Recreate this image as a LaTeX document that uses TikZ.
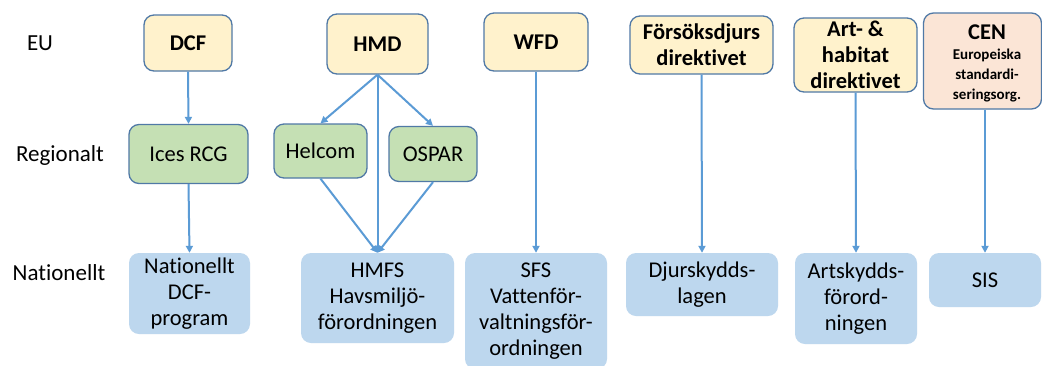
\documentclass[tikz,border=0pt]{standalone}
\usepackage{fontspec}
\setmainfont{Carlito}[Ligatures=NoCommon]
\usetikzlibrary{arrows.meta}
\definecolor{bdr}{HTML}{5079A6}
\definecolor{euf}{HTML}{FFF2CC}
\definecolor{regf}{HTML}{C5E0B4}
\definecolor{cenf}{HTML}{FBE5D6}
\definecolor{natf}{HTML}{BDD7EE}
\definecolor{arr}{HTML}{5B9BD5}
\tikzset{
  box/.style={rectangle, rounded corners=10pt, inner sep=0pt, align=center, font=\fontsize{22.5}{26}\selectfont},
  eubox/.style={box, draw=bdr, line width=1.3pt, fill=euf, font=\fontsize{22.5}{26}\selectfont\bfseries},
  cenbox/.style={box, draw=bdr, line width=1.3pt, fill=cenf},
  regbox/.style={box, draw=bdr, line width=1.3pt, fill=regf},
  natbox/.style={box, fill=natf},
  rowlbl/.style={font=\fontsize{23}{27}\selectfont, inner sep=0pt},
  conn/.style={draw=arr, line width=2pt, -{Triangle[length=7pt,width=7pt]}}
}
\begin{document}
\begin{tikzpicture}[x=1pt,y=-1pt]
\useasboundingbox (0,0) rectangle (1042,365);
\fill[white] (0,0) rectangle (1042,365);
% row labels
\node[rowlbl] (leu) at (40,43) {EU};
\node[rowlbl] (lreg) at (60,155) {Regionalt};
\node[rowlbl] (lnat) at (59,273) {Nationellt};
% EU row
\node[eubox, minimum width=88pt, minimum height=56pt] (dcf) at (188,43) {DCF};
\node[eubox, minimum width=101pt, minimum height=60pt] (hmd) at (377.5,44) {HMD};
\node[eubox, minimum width=104pt, minimum height=58pt] (wfd) at (536,42) {WFD};
\node[eubox, minimum width=143pt, minimum height=58pt] (fdd) at (701.5,45) {Försöksdjurs\\direktivet};
\node[eubox, minimum width=123pt, minimum height=74pt] (ahd) at (855.5,55) {Art- \&\\habitat\\direktivet};
\node[cenbox, minimum width=118pt, minimum height=96pt] (cen) at (982.5,61) {};
\node[align=center, inner sep=0pt, font=\fontsize{15}{20}\selectfont\bfseries] (centxt) at (987,63) {{\fontsize{22.5}{26}\selectfont CEN}\\Europeiska\\standardi-\\seringsorg.};
% Regional row
\node[regbox, minimum width=119pt, minimum height=59pt] (ices) at (188.5,154) {Ices RCG};
\node[regbox, minimum width=93pt, minimum height=54pt] (helcom) at (320.5,151) {Helcom};
\node[regbox, minimum width=88pt, minimum height=55pt] (ospar) at (433,154) {OSPAR};
% National row
\node[natbox, minimum width=121pt, minimum height=81pt] (ndcf) at (189.5,293.5) {Nationellt\\DCF-\\program};
\node[natbox, minimum width=153pt, minimum height=90pt] (hmfs) at (377.5,298) {HMFS\\Havsmiljö-\\förordningen};
\node[natbox, minimum width=142pt, minimum height=116pt] (sfs) at (536,311) {SFS\\Vattenför-\\valtningsför-\\ordningen};
\node[natbox, minimum width=152pt, minimum height=63pt] (djur) at (702,284.5) {Djurskydds-\\lagen};
\node[natbox, minimum width=122pt, minimum height=91pt] (arts) at (856,298.5) {Artskydds-\\förord-\\ningen};
\node[natbox, minimum width=112pt, minimum height=54pt] (sis) at (985,280) {SIS};
% connectors
\draw[conn] (dcf.south) -- (ices.north);
\draw[conn] (ices.south) -- (ndcf.north);
\draw[conn] (hmd.south) -- (helcom.north);
\draw[conn] (hmd.south) -- (ospar.north);
\draw[conn] (hmd.south) -- (hmfs.north);
\draw[conn] (helcom.south) -- (hmfs.north);
\draw[conn] (ospar.south) -- (hmfs.north);
\draw[conn] (wfd.south) -- (sfs.north);
\draw[conn] (fdd.south) -- (djur.north);
\draw[conn] (ahd.south) -- (arts.north);
\draw[conn] (cen.south -| sis.north) -- (sis.north);
\end{tikzpicture}
\end{document}
